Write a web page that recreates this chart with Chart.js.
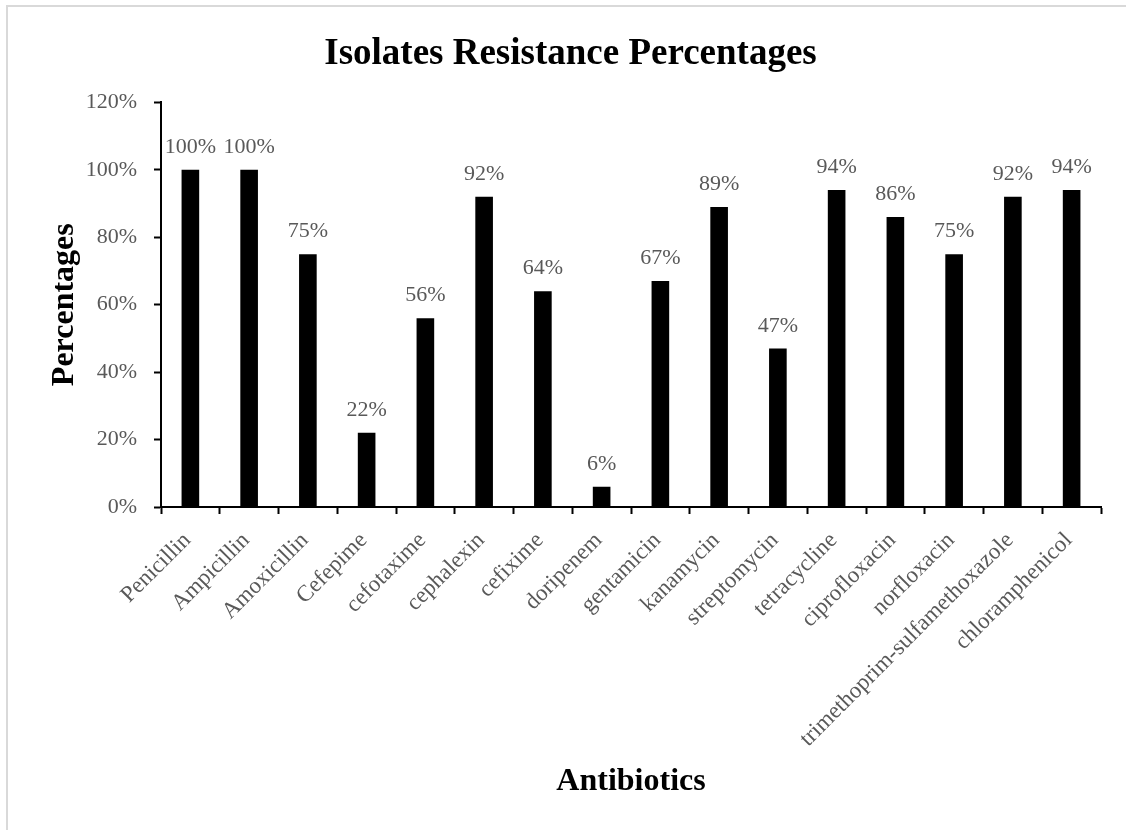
<!DOCTYPE html>
<html>
<head>
<meta charset="utf-8">
<script src="https://cdn.jsdelivr.net/npm/chart.js@4/dist/chart.umd.min.js"></script>
<style>
  html, body { margin: 0; padding: 0; background: #fff; }
  #wrap { width: 1126px; height: 830px; position: relative; }
</style>
</head>
<body>
<div id="wrap"><canvas id="c"></canvas></div>
<script>
// Antibiotics tested and the share of isolates resistant to each (%)
const antibiotics = [
  'Penicillin', 'Ampicillin', 'Amoxicillin', 'Cefepime', 'cefotaxime',
  'cephalexin', 'cefixime', 'doripenem', 'gentamicin', 'kanamycin',
  'streptomycin', 'tetracycline', 'ciprofloxacin', 'norfloxacin',
  'trimethoprim-sulfamethoxazole', 'chloramphenicol'
];
const resistance = [100, 100, 75, 22, 56, 92, 64, 6, 67, 89, 47, 94, 86, 75, 92, 94];
const yTicks = [0, 20, 40, 60, 80, 100, 120];

const SERIF = "'Liberation Serif', 'Times New Roman', serif";
const GREY = '#595959';

// white background with a light frame around the chart area
const framePlugin = {
  id: 'frame',
  beforeDraw(chart) {
    const ctx = chart.ctx;
    ctx.save();
    ctx.fillStyle = '#fff';
    ctx.fillRect(0, 0, chart.width, chart.height);
    ctx.strokeStyle = '#d9d9d9';
    ctx.lineWidth = 2;
    ctx.strokeRect(7, 6, chart.width + 20, chart.height + 20);
    ctx.restore();
  }
};

// value labels above each bar
const valueLabels = {
  id: 'valueLabels',
  afterDatasetsDraw(chart) {
    const ctx = chart.ctx;
    const meta = chart.getDatasetMeta(0);
    const data = chart.data.datasets[0].data;
    ctx.save();
    ctx.font = '22px ' + SERIF;
    ctx.fillStyle = GREY;
    ctx.textAlign = 'center';
    ctx.textBaseline = 'alphabetic';
    meta.data.forEach((bar, i) => {
      ctx.fillText(data[i] + '%', bar.x, bar.y - 17);
    });
    ctx.restore();
  }
};

new Chart(document.getElementById('c'), {
  type: 'bar',
  data: {
    labels: antibiotics,
    datasets: [{
      data: resistance,
      backgroundColor: '#000',
      borderWidth: 0,
      categoryPercentage: 1,
      barPercentage: 0.3
    }]
  },
  options: {
    responsive: true,
    maintainAspectRatio: false,
    animation: false,
    events: [],
    layout: { padding: { left: 40, right: 25, top: 0, bottom: 20 } },
    plugins: {
      legend: { display: false },
      tooltip: { enabled: false },
      title: {
        display: true,
        text: 'Isolates Resistance Percentages',
        color: '#000',
        font: { family: SERIF, size: 37, weight: 'bold' },
        padding: { top: 32, bottom: 26 }
      }
    },
    scales: {
      x: {
        grid: {
          display: true,
          offset: true,
          drawOnChartArea: false,
          drawTicks: true,
          tickLength: 7,
          tickWidth: 2,
          color: '#000'
        },
        border: { display: true, color: '#000', width: 2 },
        ticks: {
          autoSkip: false,
          maxRotation: 45,
          minRotation: 45,
          padding: 13,
          labelOffset: -3,
          color: GREY,
          font: { family: SERIF, size: 23 }
        },
        title: {
          display: true,
          text: 'Antibiotics',
          color: '#000',
          font: { family: SERIF, size: 32, weight: 'bold' },
          padding: { top: 0, bottom: 9 }
        },
        afterFit(scale) { scale.height = 303; }
      },
      y: {
        min: yTicks[0],
        max: yTicks[yTicks.length - 1],
        afterBuildTicks(scale) { scale.ticks = yTicks.map(v => ({ value: v })); },
        grid: {
          display: true,
          drawOnChartArea: false,
          drawTicks: true,
          tickLength: 7,
          tickWidth: 2,
          color: '#000'
        },
        border: { display: true, color: '#000', width: 2 },
        ticks: {
          padding: 17,
          color: GREY,
          font: { family: SERIF, size: 22 },
          callback: v => v + '%'
        },
        title: {
          display: true,
          text: 'Percentages',
          color: '#000',
          font: { family: SERIF, size: 32, weight: 'bold' },
          padding: { top: 6, bottom: 0 }
        },
        afterFit(scale) { scale.width = 121; }
      }
    }
  },
  plugins: [framePlugin, valueLabels]
});
</script>
</body>
</html>
